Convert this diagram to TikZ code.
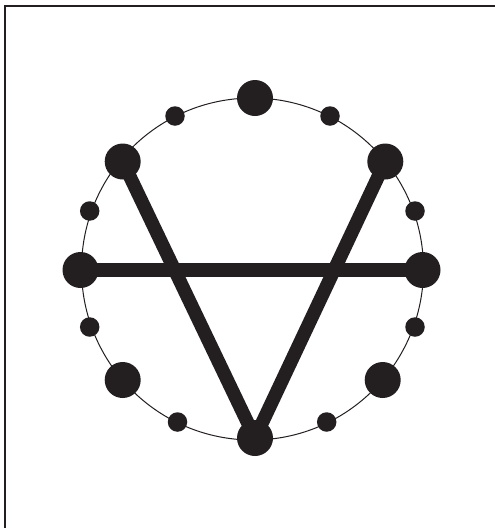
\documentclass[tikz,border=0pt]{standalone}
\definecolor{ink}{HTML}{231F20}
\begin{document}
\begin{tikzpicture}[x=1pt,y=-1pt,
  big/.style={circle,fill=ink,inner sep=0pt,minimum size=36pt},
  small/.style={circle,fill=ink,inner sep=0pt,minimum size=19.5pt},
  bar/.style={draw=ink,line width=13.5pt,line cap=butt},
  ring/.style={draw=ink,line width=1pt},
  frame/.style={draw=ink,line width=1.3pt}]
\useasboundingbox (0,0) rectangle (495,528);
\coordinate (f1) at (5,528);
\coordinate (f2) at (5,6);
\coordinate (f3) at (495,6);
\draw[frame] (f1) -- (f2) -- (f3);
\coordinate (c) at (252.5,269);
\draw[ring] (c) circle[radius=171];
% big dots
\node[big] (top) at (255,98) {};
\node[big] (bot) at (255,438) {};
\node[big] (lft) at (80.5,270) {};
\node[big] (rgt) at (422.5,270) {};
\node[big] (ul) at (122.7,161.5) {};
\node[big] (ur) at (385.3,161.5) {};
\node[big] (ll) at (122.7,380) {};
\node[big] (lr) at (382.7,380) {};
% small dots
\node[small] (s1) at (175,116) {};
\node[small] (s2) at (330,116) {};
\node[small] (s3) at (89.7,211) {};
\node[small] (s4) at (415,211) {};
\node[small] (s5) at (89.7,327) {};
\node[small] (s6) at (415,327) {};
\node[small] (s7) at (177.5,422) {};
\node[small] (s8) at (326.7,422) {};
% bars
\draw[bar] (lft.center) -- (rgt.center);
\draw[bar] (ul.center) -- (bot.center);
\draw[bar] (ur.center) -- (bot.center);
\end{tikzpicture}
\end{document}
